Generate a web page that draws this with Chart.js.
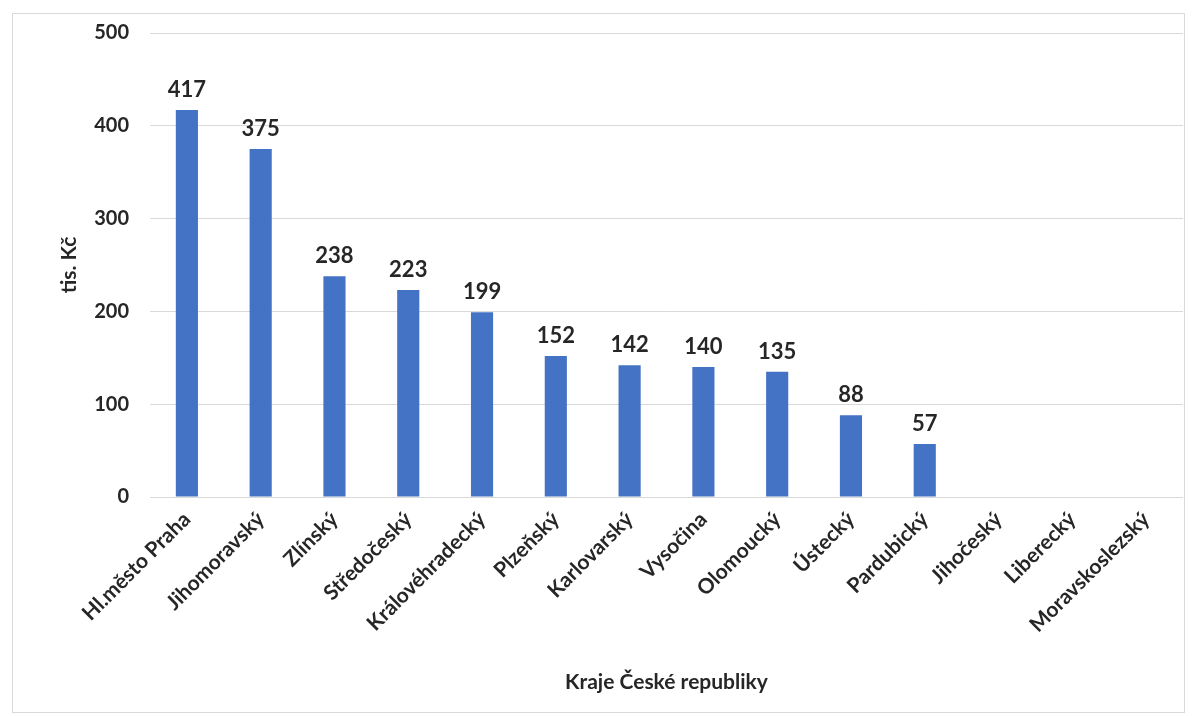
<!DOCTYPE html>
<html><head><meta charset="utf-8">
<script src="https://cdn.jsdelivr.net/npm/chart.js@4/dist/chart.umd.min.js"></script>
<style>html,body{margin:0;padding:0;background:#fff}#wrap{width:1195px;height:716px;position:relative}</style>
</head><body><div id="wrap"><canvas id="c" width="1195" height="716"></canvas></div>
<script>
const categories = ["Hl.město Praha","Jihomoravský","Zlínský","Středočeský","Královéhradecký","Plzeňský","Karlovarský","Vysočina","Olomoucký","Ústecký","Pardubický","Jihočeský","Liberecký","Moravskoslezský"];
const values = [417,375,238,223,199,152,142,140,135,88,57,null,null,null];
const yTicks = [0,100,200,300,400,500];
const yTitle = "tis. Kč";
const xTitle = "Kraje České republiky";

const FONT = "Lato, 'Open Sans', sans-serif";
const TXT = "#262626";

const labelPlugin = {
  id: 'valueLabels',
  afterDatasetsDraw(chart) {
    const ctx = chart.ctx;
    const meta = chart.getDatasetMeta(0);
    ctx.save();
    ctx.font = "bold 22px " + FONT;
    ctx.fillStyle = TXT;
    ctx.textAlign = 'center';
    ctx.textBaseline = 'alphabetic';
    meta.data.forEach((bar, i) => {
      const v = values[i];
      if (v === null || v === undefined) return;
      ctx.fillText(String(v), bar.x, bar.y - 13);
    });
    ctx.restore();
  }
};
const borderPlugin = {
  id: 'outerBorder',
  afterDraw(chart) {
    const ctx = chart.ctx;
    ctx.save();
    ctx.strokeStyle = '#d9d9d9';
    ctx.lineWidth = 1;
    ctx.strokeRect(12.5, 13.5, 1172, 699);
    ctx.restore();
  }
};

new Chart(document.getElementById('c'), {
  type: 'bar',
  data: {
    labels: categories,
    datasets: [{
      data: values,
      backgroundColor: '#4472C4',
      barPercentage: 0.3,
      categoryPercentage: 1.0
    }]
  },
  options: {
    responsive: false,
    animation: false,
    layout: { padding: { top: 33, right: 12, bottom: 0, left: 0 } },
    plugins: { legend: { display: false }, tooltip: { enabled: false } },
    scales: {
      x: {
        grid: { display: false },
        border: { display: false },
        ticks: {
          minRotation: 45, maxRotation: 45, autoSkip: false,
          color: TXT, font: { family: FONT, size: 21, weight: 'bold' }, padding: 2
        },
        title: { display: true, text: xTitle, color: TXT, font: { family: FONT, size: 21, weight: 'bold' }, padding: { top: 0, bottom: 21 } },
        afterFit(s) { s.height = 219; }
      },
      y: {
        min: 0, max: 500,
        afterBuildTicks(s) { s.ticks = yTicks.map(v => ({ value: v })); },
        grid: { color: '#d9d9d9', drawTicks: false },
        border: { display: false },
        ticks: { color: TXT, font: { family: FONT, size: 20, weight: 'bold' }, padding: 21 },
        title: { display: true, text: yTitle, color: TXT, font: { family: FONT, size: 21, weight: 'bold' }, padding: { top: 57, bottom: 0 } },
        afterFit(s) { s.width = 150; }
      }
    }
  },
  plugins: [labelPlugin, borderPlugin]
});
</script>
</body></html>
